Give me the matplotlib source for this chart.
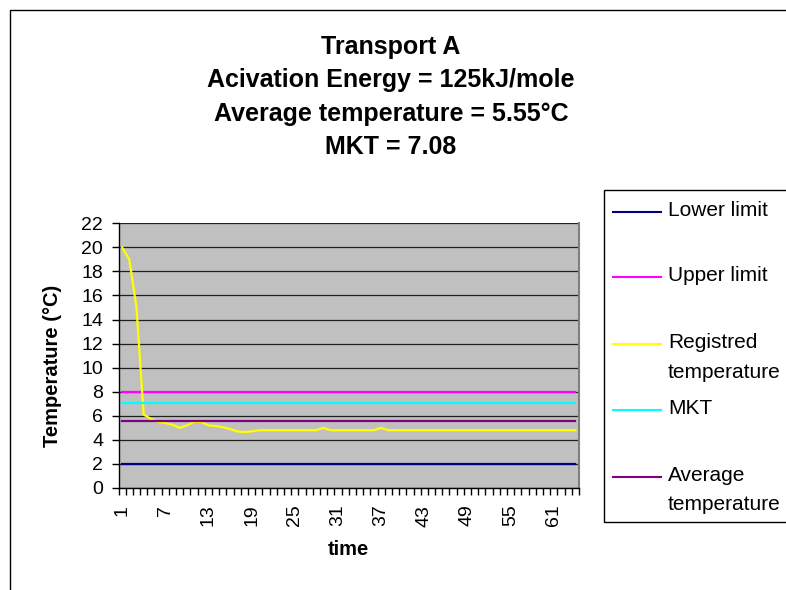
import matplotlib
matplotlib.use("Agg")
import matplotlib.pyplot as plt
import numpy as np
from matplotlib.patches import Rectangle
from matplotlib.lines import Line2D

plt.rcParams['font.family'] = ['Liberation Sans', 'DejaVu Sans']

# ---------------- data ----------------
time = list(range(1, 65))
registered = [20, 19, 15, 6.1, 5.75, 5.5, 5.4, 5.25, 5.0, 5.2,
              5.5, 5.5, 5.2, 5.15, 5.05, 4.9, 4.7, 4.65, 4.7, 4.8,
              4.8, 4.8, 4.8, 4.8, 4.8, 4.8, 4.8, 4.8, 5.0, 4.8,
              4.8, 4.8, 4.8, 4.8, 4.8, 4.8, 5.0, 4.8, 4.8, 4.8,
              4.8, 4.8, 4.8, 4.8, 4.8, 4.8, 4.8, 4.8, 4.8, 4.8,
              4.8, 4.8, 4.8, 4.8, 4.8, 4.8, 4.8, 4.8, 4.8, 4.8,
              4.8, 4.8, 4.8, 4.8]
lower_limit = 2.0
upper_limit = 8.0
mkt_value = 7.08
average_value = 5.55
x_label_positions = [1, 7, 13, 19, 25, 31, 37, 43, 49, 55, 61]
y_tick_values = [0, 2, 4, 6, 8, 10, 12, 14, 16, 18, 20, 22]
title_lines = ["Transport A", "Acivation Energy = 125kJ/mole",
               "Average temperature = 5.55°C", "MKT = 7.08"]
series_names = ["Lower limit", "Upper limit", "Registred\ntemperature",
                "MKT", "Average\ntemperature"]
series_colors = ["#000080", "#FF00FF", "#FFFF00", "#00FFFF", "#800080"]

# ---------------- figure ----------------
W, H = 786, 590
fig = plt.figure(figsize=(W / 100, H / 100), dpi=100)
fig.patch.set_facecolor("white")

def fx(px):
    return px / W

def fy(py):
    return 1 - py / H

# outer chart-area border (top and left visible)
fig.add_artist(Rectangle((fx(10), fy(600)), 1.0, fy(10) - fy(600),
                         transform=fig.transFigure, fill=False,
                         edgecolor="black", lw=1.0))

ax = fig.add_axes([fx(118.5), fy(488), fx(579) - fx(118.5), fy(223.3) - fy(488)])
ax.set_facecolor("#C0C0C0")

n = len(time)
lw = 1.6
ax.plot(time, [lower_limit] * n, color=series_colors[0], lw=lw, zorder=3)
ax.plot(time, [upper_limit] * n, color=series_colors[1], lw=lw, zorder=3)
ax.plot(time, registered, color=series_colors[2], lw=lw, zorder=3)
ax.plot(time, [mkt_value] * n, color=series_colors[3], lw=lw, zorder=3)
ax.plot(time, [average_value] * n, color=series_colors[4], lw=lw, zorder=3)

ax.set_xlim(0.5, n + 0.5)
ax.set_ylim(0, 22)

# y axis
ax.set_yticks(y_tick_values)
ax.set_yticklabels([str(v) for v in y_tick_values], fontsize=14)
ax.tick_params(axis="y", direction="out", length=5, width=1, pad=6)
ax.yaxis.grid(True, color="#202020", lw=0.9)
ax.set_axisbelow(True)

# x axis: tick marks between categories, labels at categories
ax.set_xticks(np.arange(0.5, n + 1, 1))
ax.set_xticklabels([])
ax.tick_params(axis="x", which="major", direction="out", length=5, width=1)
ax.set_xticks(x_label_positions, minor=True)
ax.set_xticklabels([str(v) for v in x_label_positions], minor=True,
                   rotation=90, fontsize=14)
ax.tick_params(axis="x", which="minor", length=0, pad=12)

for s in ["left", "bottom"]:
    ax.spines[s].set_color("black")
    ax.spines[s].set_linewidth(1.0)
ax.spines["right"].set_color("#808080")
ax.spines["right"].set_linewidth(1.5)
ax.spines["top"].set_visible(False)

ax.set_ylabel("Temperature (°C)", fontsize=14.5, fontweight="bold")
ax.yaxis.set_label_coords(-0.122, 0.46)
ax.set_xlabel("time", fontsize=14.5, fontweight="bold")
ax.xaxis.set_label_coords(0.5, -0.195)

# title
title_y = [47, 80, 114, 147]
for t, y in zip(title_lines, title_y):
    fig.text(fx(391), fy(y), t, ha="center", va="center",
             fontsize=18, fontweight="bold")

# legend box
fig.add_artist(Rectangle((fx(604), fy(522)), 1.0, fy(190) - fy(522),
                         transform=fig.transFigure, fill=False,
                         edgecolor="black", lw=1.0))
handle_y = [212, 277, 344, 410, 477]
for name, col, y in zip(series_names, series_colors, handle_y):
    fig.add_artist(Line2D([fx(613), fx(661)], [fy(y), fy(y)],
                          transform=fig.transFigure, color=col, lw=1.5))
    fig.text(fx(668), fy(y - 11), name, ha="left", va="top", fontsize=15,
             linespacing=1.7)

fig.savefig("out.png", dpi=100)
